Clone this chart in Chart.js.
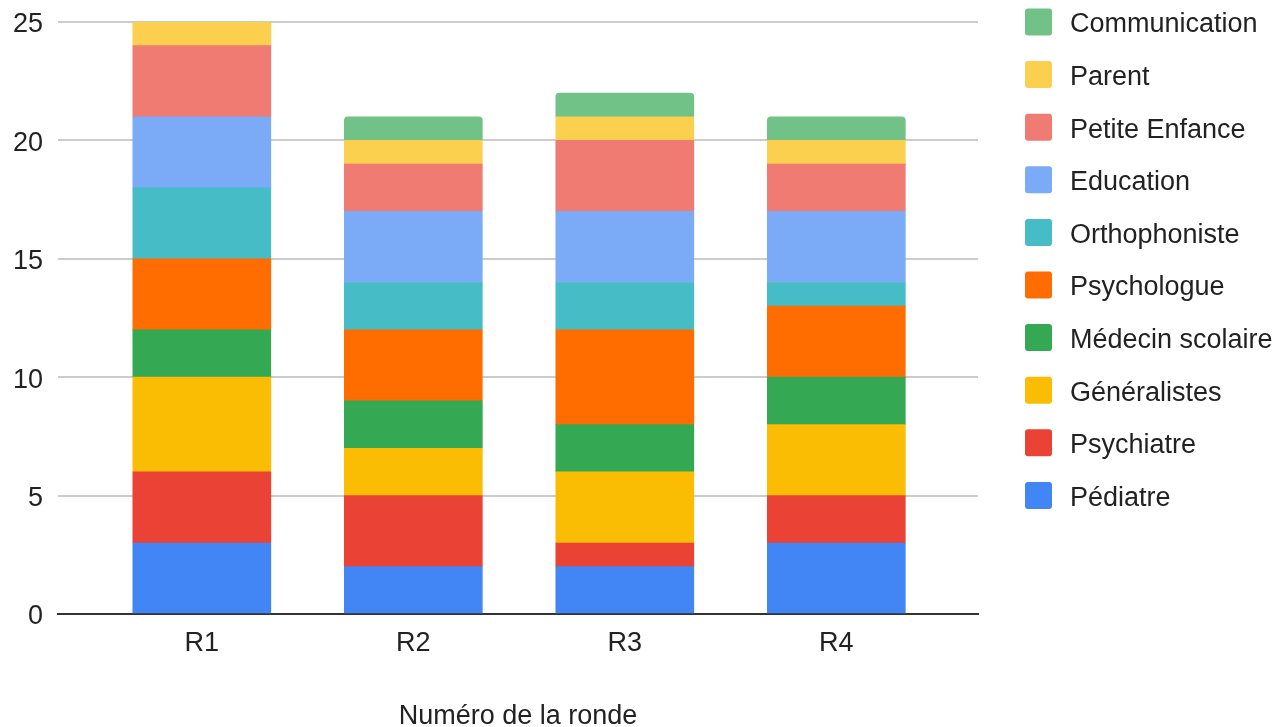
<!DOCTYPE html>
<html lang="fr">
<head>
  <meta charset="UTF-8" />
  <title>Numéro de la ronde</title>
  <script src="https://cdn.jsdelivr.net/npm/chart.js"></script>
  <style>
    html, body { margin: 0; padding: 0; background: #fff; }
    #chart { display: block; }
  </style>
</head>
<body>
  <canvas id="chart" width="1276" height="727"></canvas>

  <script>
    // données
    const rondes = ['R1', 'R2', 'R3', 'R4'];
    const yTicks = [0, 5, 10, 15, 20, 25];

    const pediatre        = [3, 2, 2, 3];
    const psychiatre      = [3, 3, 1, 2];
    const generalistes    = [4, 2, 3, 3];
    const medecinScolaire = [2, 2, 2, 2];
    const psychologue     = [3, 3, 4, 3];
    const orthophoniste   = [3, 2, 2, 1];
    const education       = [3, 3, 3, 3];
    const petiteEnfance   = [3, 2, 3, 2];
    const parent          = [1, 1, 1, 1];
    const communication   = [0, 1, 1, 1];

    const series = [
      { label: 'Pédiatre',         data: pediatre,        color: '#4285F4' },
      { label: 'Psychiatre',       data: psychiatre,      color: '#EA4335' },
      { label: 'Généralistes',     data: generalistes,    color: '#FBBC04' },
      { label: 'Médecin scolaire', data: medecinScolaire, color: '#34A853' },
      { label: 'Psychologue',      data: psychologue,     color: '#FF6D01' },
      { label: 'Orthophoniste',    data: orthophoniste,   color: '#46BDC6' },
      { label: 'Education',        data: education,       color: '#7BAAF7' },
      { label: 'Petite Enfance',   data: petiteEnfance,   color: '#F07B72' },
      { label: 'Parent',           data: parent,          color: '#FCD04F' },
      { label: 'Communication',    data: communication,   color: '#71C287' }
    ];

    const FONT = '"Liberation Sans", Arial, sans-serif';
    const yMax = yTicks[yTicks.length - 1];

    // arrondi seulement sur le segment du haut de chaque pile
    function topRadius(ctx) {
      const i = ctx.dataIndex, d = ctx.datasetIndex;
      if (!series[d].data[i]) return 0;
      for (let k = d + 1; k < series.length; k++) {
        if (series[k].data[i]) return 0;
      }
      const total = series.reduce((s, x) => s + x.data[i], 0);
      if (total >= yMax) return 0;
      return { topLeft: 4, topRight: 4, bottomLeft: 0, bottomRight: 0 };
    }

    // légende à droite, ordre inversé
    const legendeDroite = {
      id: 'legendeDroite',
      afterDraw(chart) {
        const c = chart.ctx;
        const x = 1025, top = 22, step = 52.6, box = 27;
        c.save();
        c.font = '27px ' + FONT;
        c.textBaseline = 'middle';
        [...chart.data.datasets].reverse().forEach((ds, n) => {
          const cy = top + n * step;
          c.fillStyle = ds.backgroundColor;
          c.beginPath();
          c.roundRect(x, cy - box / 2, box, box, 3);
          c.fill();
          c.fillStyle = '#222';
          c.fillText(ds.label, x + 45, cy + 3);
        });
        c.restore();
      }
    };

    new Chart(document.getElementById('chart'), {
      type: 'bar',
      data: {
        datasets: series.map(s => ({
          label: s.label,
          data: s.data.map((v, i) => ({ x: i, y: v })),
          backgroundColor: s.color,
          borderWidth: 0,
          borderRadius: topRadius,
          borderSkipped: false,
          barThickness: 138
        }))
      },
      options: {
        responsive: false,
        animation: false,
        layout: { padding: { top: 22, right: 298, left: 0, bottom: 0 } },
        plugins: {
          legend: { display: false },
          tooltip: { enabled: false }
        },
        scales: {
          x: {
            type: 'linear',
            stacked: true,
            offset: false,
            min: -0.68,
            max: 3.67,
            afterBuildTicks(axis) { axis.ticks = rondes.map((r, i) => ({ value: i })); },
            grid: { display: false },
            border: { color: '#333', width: 2 },
            ticks: {
              color: '#222', padding: 5,
              font: { family: FONT, size: 27, lineHeight: 1.2 },
              callback: v => rondes[v]
            },
            title: {
              display: true,
              text: 'Numéro de la ronde',
              color: '#222',
              padding: { top: 40, bottom: 0 },
              font: { family: FONT, size: 27, lineHeight: 0.8 }
            },
            afterFit(axis) { axis.height = 113; axis.paddingLeft = 0; axis.paddingRight = 0; }
          },
          y: {
            stacked: true,
            min: 0,
            max: yMax,
            afterBuildTicks(axis) { axis.ticks = yTicks.map(v => ({ value: v })); },
            grid: {
              color: ctx => ctx.tick.value === 0 ? '#333' : '#ccc',
              lineWidth: 2,
              drawTicks: false
            },
            border: { display: false },
            ticks: { color: '#222', padding: 15, labelOffset: 3, font: { family: FONT, size: 27 } },
            afterFit(axis) { axis.width = 58; axis.paddingTop = 0; axis.paddingBottom = 0; }
          }
        }
      },
      plugins: [legendeDroite]
    });
  </script>
</body>
</html>
